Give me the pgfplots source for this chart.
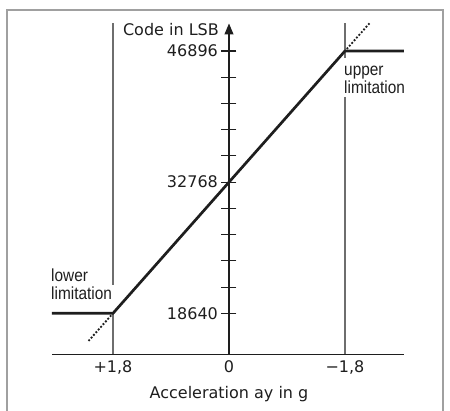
\documentclass[border=0pt]{standalone}
\usepackage{pgfplots}
\pgfplotsset{compat=1.18}
\usetikzlibrary{arrows.meta}
\usepackage{fontspec}
\setmainfont{DejaVu Sans}
\newfontfamily\narrow[FakeStretch=0.88]{Liberation Sans}
\definecolor{ink}{HTML}{1E1E1E}
\definecolor{lgray}{HTML}{6E6E6E}
\definecolor{fgray}{HTML}{A0A0A0}
\begin{document}
\begin{tikzpicture}
\useasboundingbox (-52pt,-55.7pt) rectangle (398pt,354.3pt);
\draw[fgray, line width=1.8pt] (-45.3pt,-70pt) -- (-45.3pt,344.6pt) -- (391pt,344.6pt) -- (391pt,-70pt);
\begin{axis}[
  at={(0pt,0pt)}, anchor=south west,
  scale only axis, width=352pt, height=330.8pt,
  x dir=reverse,
  xmin=-2.7155, xmax=2.7466, ymin=14223, ymax=49858,
  axis x line=bottom, axis y line=center,
  x axis line style={-, ink, line width=1.1pt},
  y axis line style={-{Triangle[length=11pt,width=9pt]}, ink, line width=1.1pt},
  hide obscured x ticks=false, hide obscured y ticks=false,
  scaled y ticks=false, scaled x ticks=false,
  xtick={1.8,0,-1.8},
  xticklabels={{+1,8},{0},{−1,8}},
  xtick style={draw=none},
  xticklabel style={anchor=base, inner sep=0pt, yshift=-10.9pt, text=ink},
  ytick={18640,21465.6,24291.2,27116.8,29942.4,32768,35593.6,38419.2,41244.8,44070.4,46896},
  yticklabels={18640,,,,,32768,,,,,46896},
  ytick align=center, major tick length=15pt,
  ytick style={ink, line width=1.1pt},
  yticklabel style={anchor=east, inner sep=0pt, xshift=-3.4pt, text=ink},
  tick label style={font=\fontsize{16}{19}\selectfont},
  xlabel={Acceleration ay in g},
  ylabel={Code in LSB},
  label style={font=\fontsize{16}{19}\selectfont, text=ink, inner sep=0pt},
  xlabel style={at={(axis cs:0,9476)}, anchor=base},
  ylabel style={at={(axis cs:0.155,48544)}, anchor=base east, rotate=0},
  clip=false,
]
% gray vertical limit lines
\addplot[lgray, line width=1.1pt] coordinates {(1.8,49900) (1.8,21689)};
\addplot[lgray, line width=1.1pt] coordinates {(1.8,18640) (1.8,14223)};
\addplot[lgray, line width=1.1pt] coordinates {(-1.8,49900) (-1.8,46142)};
\addplot[lgray, line width=1.1pt] coordinates {(-1.8,41941) (-1.8,14223)};
% characteristic
\addplot[ink, line width=2.7pt, line join=round] coordinates {(2.7466,18640) (1.8,18640) (-1.8,46896) (-2.7155,46896)};
% dotted extensions
\addplot[ink, line width=2.6pt, line cap=round, dash pattern=on 0pt off 3.6pt] coordinates {(1.8,18640) (2.18,15657)};
\addplot[ink, line width=2.6pt, line cap=round, dash pattern=on 0pt off 3.6pt] coordinates {(-1.8,46896) (-2.18,49879)};
% annotations
\node[anchor=base west, inner sep=0pt, text=ink, font=\narrow\fontsize{17.5}{17.5}\selectfont] at (axis cs:-1.7845,44257) {upper};
\node[anchor=base west, inner sep=0pt, text=ink, font=\narrow\fontsize{17.5}{17.5}\selectfont] at (axis cs:-1.7845,42339) {limitation};
\node[anchor=base west, inner sep=0pt, text=ink, font=\narrow\fontsize{17.5}{17.5}\selectfont] at (axis cs:2.762,22044) {lower};
\node[anchor=base west, inner sep=0pt, text=ink, font=\narrow\fontsize{17.5}{17.5}\selectfont] at (axis cs:2.762,20180) {limitation};
\end{axis}
\end{tikzpicture}
\end{document}
